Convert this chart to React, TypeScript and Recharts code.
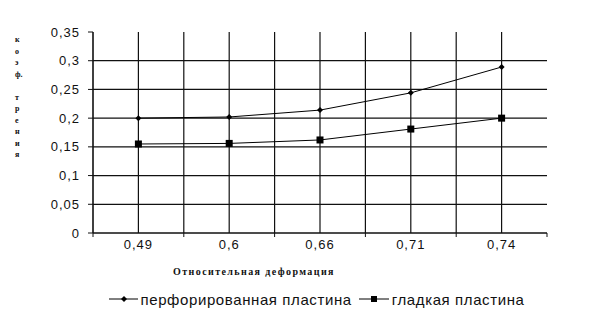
import React from 'react';
import {
  LineChart,
  Line,
  XAxis,
  YAxis,
  CartesianGrid,
  Legend,
  Label
} from 'recharts';

const categories = ['0,49', '0,6', '0,66', '0,71', '0,74'];
const perforated = [0.2, 0.202, 0.214, 0.244, 0.289];
const smooth = [0.155, 0.156, 0.162, 0.181, 0.2];

const yTicks = [0, 0.05, 0.1, 0.15, 0.2, 0.25, 0.3, 0.35];
const yGridValues = [0, 0.05, 0.1, 0.15, 0.2, 0.25, 0.3];
// band edges (integers) + category centres (halves)
const xTicks = [0, 0.5, 1, 1.5, 2, 2.5, 3, 3.5, 4, 4.5, 5];
const xGridValues = [0, 0.5, 1, 1.5, 2, 2.5, 3, 3.5, 4, 4.5];

const yTitle = ['к', 'о', 'э', 'ф.', '', 'т', 'р', 'е', 'н', 'и', 'я'];
const xTitle = 'Относительная деформация';
const seriesNames = ['перфорированная пластина', 'гладкая пластина'];

const data = categories.map((c, i) => ({
  pos: i + 0.5,
  label: c,
  perforated: perforated[i],
  smooth: smooth[i]
}));

const SANS = '"Liberation Sans", Arial, sans-serif';
const SERIF = '"Liberation Serif", "DejaVu Serif", serif';

const XTick: React.FC<any> = ({ x, y, payload }) => {
  const v = payload.value;
  if (Number.isInteger(v)) {
    return <line x1={x} x2={x} y1={y - 8} y2={y - 4} stroke="#111" strokeWidth={1} />;
  }
  return (
    <text x={x} y={y + 8} textAnchor="middle" fontFamily={SANS} fontSize={13} letterSpacing={1} fill="#111">
      {categories[Math.floor(v)]}
    </text>
  );
};

const Diamond: React.FC<any> = ({ cx, cy }) => {
  if (cx == null || cy == null) return null;
  return <path d={`M${cx},${cy - 3}L${cx + 3},${cy}L${cx},${cy + 3}L${cx - 3},${cy}Z`} fill="#000" />;
};

const Square: React.FC<any> = ({ cx, cy }) => {
  if (cx == null || cy == null) return null;
  return <rect x={cx - 3.5} y={cy - 3.5} width={7} height={7} fill="#000" />;
};

const LegendContent: React.FC<any> = () => (
  <div style={{ display: 'flex', justifyContent: 'center', alignItems: 'center', height: 20, paddingLeft: 86, fontFamily: SANS, fontSize: 15, letterSpacing: 0.6, color: '#111' }}>
    <svg width={29} height={10} style={{ marginRight: 3 }}>
      <line x1={0} x2={29} y1={5} y2={5} stroke="#000" />
      <path d="M15,2L18,5L15,8L12,5Z" fill="#000" />
    </svg>
    <span style={{ marginRight: 7 }}>{seriesNames[0]}</span>
    <svg width={30} height={10} style={{ marginRight: 3 }}>
      <line x1={0} x2={30} y1={5} y2={5} stroke="#000" />
      <rect x={12} y={2} width={6} height={6} fill="#000" />
    </svg>
    <span>{seriesNames[1]}</span>
  </div>
);

export default function App() {
  return (
    <div style={{ position: 'absolute', left: 0, top: 0, width: 605, height: 325, background: '#fff' }}>
      <LineChart width={605} height={325} data={data} margin={{ top: 32, right: 58, left: 0, bottom: 16 }}>
        <CartesianGrid
          stroke="#111"
          strokeWidth={1.2}
          horizontalValues={yGridValues}
          verticalValues={xGridValues}
        />
        <XAxis
          dataKey="pos"
          type="number"
          domain={[0, 5]}
          ticks={xTicks}
          interval={0}
          height={56}
          tickLine={false}
          tickSize={6}
          tickMargin={2}
          axisLine={{ stroke: '#111' }}
          tick={<XTick />}
        >
          <Label
            content={({ viewBox }: any) => (
              <text
                x={viewBox.x + viewBox.width / 2 - 66}
                y={viewBox.y + 42}
                textAnchor="middle"
                fontFamily={SERIF}
                fontWeight="bold"
                fontSize={10}
                letterSpacing={1.4}
                fill="#111"
              >
                {xTitle}
              </text>
            )}
          />
        </XAxis>
        <YAxis
          type="number"
          domain={[0, 0.35]}
          ticks={yTicks}
          width={93}
          tickSize={5}
          tickMargin={8}
          tickFormatter={(v: number) => String(v).replace('.', ',')}
          tick={{ fontFamily: SANS, fontSize: 13, letterSpacing: 1, fill: '#111' }}
          tickLine={{ stroke: '#111' }}
          axisLine={{ stroke: '#111' }}
        >
          <Label
            content={() => (
              <text fontFamily={SERIF} fontWeight="bold" fontSize={8} fill="#111">
                {yTitle.map((ch, i) => (
                  <tspan key={i} x={15} y={42 + i * 11.5}>
                    {ch || ' '}
                  </tspan>
                ))}
              </text>
            )}
          />
        </YAxis>
        <Legend verticalAlign="bottom" align="center" height={20} content={<LegendContent />} />
        <Line
          type="linear"
          dataKey="perforated"
          name={seriesNames[0]}
          stroke="#000"
          strokeWidth={1}
          dot={<Diamond />}
          activeDot={false}
          isAnimationActive={false}
        />
        <Line
          type="linear"
          dataKey="smooth"
          name={seriesNames[1]}
          stroke="#000"
          strokeWidth={1}
          dot={<Square />}
          activeDot={false}
          isAnimationActive={false}
        />
      </LineChart>
    </div>
  );
}
